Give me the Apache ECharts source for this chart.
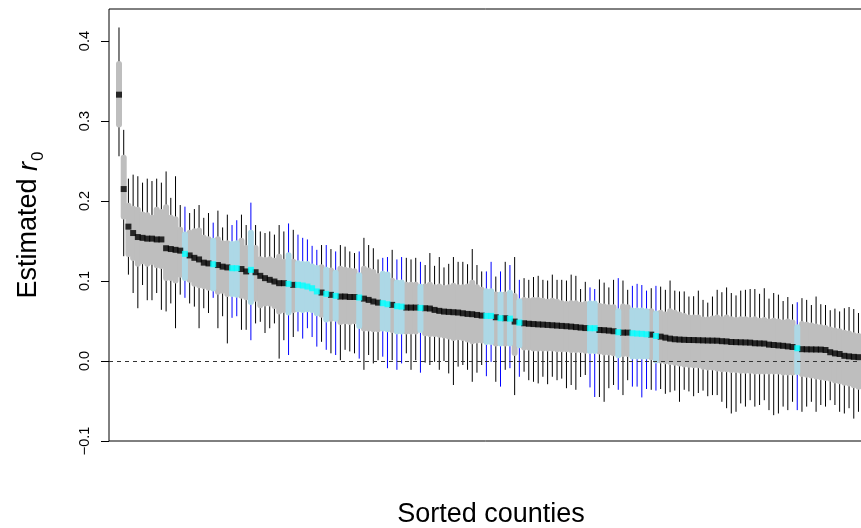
<!DOCTYPE html>
<html>
<head>
<meta charset="utf-8">
<script src="https://cdn.jsdelivr.net/npm/echarts@6/dist/echarts.min.js"></script>
<style>
html,body{margin:0;padding:0;background:#fff;}
#chart{width:861px;height:528px;}
</style>
</head>
<body>
<div id="chart"></div>
<script>
// Point estimates of r0 for the sorted counties (rank 1..158)
const EST = [
0.333,0.215,0.168,0.160,0.155,0.154,0.153,0.153,0.152,0.152,
0.141,0.140,0.139,0.138,0.134,0.132,0.129,0.127,0.123,0.122,
0.121,0.120,0.118,0.117,0.116,0.116,0.115,0.112,0.114,0.111,
0.1065,0.1036,0.1015,0.0994,0.0973,0.0973,0.0965,0.0952,0.0952,0.0944,
0.0931,0.091,0.087,0.0856,0.084,0.0827,0.0815,0.0806,0.0806,0.080,
0.080,0.0794,0.078,0.0764,0.0744,0.073,0.0723,0.071,0.0702,0.0685,
0.068,0.0668,0.0668,0.0668,0.0664,0.066,0.0656,0.0639,0.0627,0.0618,
0.0614,0.061,0.0606,0.0597,0.0589,0.0585,0.0576,0.0568,0.0564,0.0564,
0.0547,0.0535,0.0535,0.053,0.0493,0.048,0.0472,0.0466,0.0462,0.0458,
0.0455,0.0451,0.0447,0.0443,0.0439,0.0435,0.043,0.0424,0.0418,0.0412,
0.041,0.041,0.0388,0.0385,0.038,0.0372,0.036,0.0355,0.0355,0.0347,
0.0343,0.034,0.0334,0.033,0.0313,0.0305,0.0292,0.028,0.0272,0.0268,
0.0265,0.0263,0.0262,0.026,0.0258,0.0256,0.0255,0.0254,0.0248,0.0245,
0.0238,0.0236,0.0234,0.0232,0.023,0.0222,0.022,0.0218,0.0205,0.020,
0.0195,0.019,0.0183,0.0175,0.016,0.0148,0.0146,0.0145,0.0144,0.0143,
0.0138,0.011,0.0095,0.0088,0.0065,0.0058,0.0052,0.0048
];
// Inner (thick) interval, upper and lower ends
const G_HI = [
0.375,0.258,0.198,0.194,0.193,0.187,0.186,0.183,0.193,0.190,
0.196,0.183,0.181,0.168,0.162,0.164,0.166,0.167,0.158,0.156,
0.154,0.156,0.151,0.151,0.150,0.151,0.154,0.145,0.164,0.145,
0.131,0.130,0.131,0.129,0.134,0.128,0.136,0.128,0.126,0.125,
0.125,0.122,0.120,0.121,0.118,0.117,0.114,0.119,0.118,0.117,
0.116,0.111,0.119,0.117,0.115,0.110,0.113,0.112,0.104,0.102,
0.102,0.099,0.099,0.099,0.0965,0.097,0.099,0.096,0.097,0.095,
0.096,0.098,0.096,0.096,0.097,0.1015,0.096,0.093,0.091,0.091,
0.087,0.087,0.087,0.089,0.085,0.0786,0.080,0.079,0.080,0.080,
0.079,0.078,0.079,0.078,0.076,0.075,0.076,0.076,0.074,0.075,
0.0756,0.0756,0.073,0.072,0.071,0.071,0.066,0.072,0.071,0.067,
0.067,0.067,0.066,0.066,0.063,0.064,0.062,0.066,0.064,0.062,
0.060,0.058,0.058,0.058,0.0555,0.0555,0.057,0.058,0.056,0.058,
0.056,0.055,0.056,0.056,0.055,0.056,0.054,0.055,0.053,0.054,
0.053,0.052,0.053,0.052,0.046,0.050,0.049,0.048,0.047,0.046,
0.045,0.043,0.042,0.041,0.039,0.038,0.036,0.035
];
const G_LO = [
0.292,0.177,0.130,0.125,0.118,0.121,0.118,0.120,0.116,0.115,
0.100,0.100,0.097,0.104,0.100,0.098,0.093,0.091,0.090,0.088,
0.087,0.083,0.084,0.080,0.080,0.079,0.078,0.076,0.070,0.074,
0.066,0.068,0.068,0.065,0.058,0.060,0.057,0.060,0.061,0.060,
0.061,0.060,0.056,0.054,0.048,0.049,0.049,0.045,0.046,0.045,
0.046,0.040,0.037,0.037,0.036,0.036,0.037,0.036,0.035,0.033,
0.033,0.033,0.033,0.033,0.035,0.031,0.030,0.030,0.029,0.028,
0.027,0.025,0.026,0.025,0.023,0.021,0.022,0.022,0.020,0.020,
0.018,0.018,0.018,0.018,0.0063,0.016,0.013,0.013,0.012,0.012,
0.012,0.012,0.012,0.011,0.011,0.011,0.010,0.010,0.010,0.009,
0.0088,0.0088,0.008,0.007,0.007,0.006,0.0034,0.005,0.005,0.002,
0.002,0.002,0.002,0.001,-0.003,-0.003,-0.004,-0.005,-0.006,-0.007,
-0.008,-0.0084,-0.009,-0.009,-0.011,-0.012,-0.012,-0.013,-0.014,-0.014,
-0.015,-0.015,-0.016,-0.016,-0.016,-0.017,-0.017,-0.017,-0.017,-0.017,
-0.017,-0.018,-0.018,-0.018,-0.0175,-0.020,-0.021,-0.022,-0.023,-0.024,
-0.025,-0.026,-0.028,-0.029,-0.031,-0.032,-0.034,-0.036
];
// Outer (thin) interval, upper and lower ends
const L_HI = [
0.417,0.289,0.228,0.233,0.231,0.223,0.228,0.225,0.228,0.223,
0.237,0.204,0.231,0.195,0.193,0.185,0.190,0.195,0.179,0.185,
0.173,0.188,0.167,0.183,0.170,0.176,0.183,0.170,0.198,0.170,
0.162,0.160,0.162,0.158,0.170,0.162,0.172,0.164,0.158,0.154,
0.152,0.144,0.139,0.145,0.145,0.140,0.137,0.145,0.143,0.137,
0.135,0.137,0.154,0.145,0.141,0.127,0.129,0.130,0.139,0.127,
0.130,0.129,0.127,0.129,0.124,0.120,0.135,0.119,0.130,0.117,
0.1215,0.130,0.124,0.124,0.121,0.140,0.120,0.112,0.112,0.124,
0.1056,0.112,0.124,0.120,0.130,0.1015,0.1036,0.1015,0.105,0.1065,
0.1015,0.1006,0.108,0.1015,0.1015,0.1006,0.108,0.1065,0.090,0.099,
0.092,0.090,0.102,0.098,0.092,0.1015,0.1036,0.1006,0.089,0.094,
0.0965,0.095,0.088,0.091,0.094,0.093,0.089,0.1006,0.088,0.087,
0.087,0.0806,0.081,0.088,0.0764,0.073,0.0806,0.089,0.086,0.092,
0.085,0.082,0.088,0.089,0.090,0.090,0.084,0.091,0.078,0.085,
0.083,0.075,0.080,0.071,0.0735,0.0786,0.0764,0.070,0.0806,0.071,
0.070,0.0635,0.0655,0.062,0.066,0.0675,0.065,0.060
];
const L_LO = [
0.256,0.131,0.108,0.085,0.066,0.095,0.076,0.076,0.085,0.064,
0.062,0.072,0.041,0.083,0.079,0.072,0.068,0.041,0.066,0.060,
0.079,0.041,0.056,0.022,0.054,0.056,0.039,0.039,0.026,0.047,
0.049,0.035,0.041,0.047,0.003,0.026,0.0075,0.030,0.037,0.028,
0.041,0.030,0.018,0.024,0.014,0.0096,0.0075,0.001,0.014,0.012,
0.0096,0.003,-0.011,0.0075,-0.003,0.001,0.0054,-0.009,0.001,-0.011,
-0.003,0.0096,-0.011,0.001,-0.0146,-0.002,-0.005,-0.001,-0.011,0.000,
-0.0155,-0.030,-0.007,-0.005,-0.011,-0.026,-0.0146,-0.005,-0.019,-0.001,
-0.026,-0.032,-0.011,-0.009,-0.0426,-0.0197,-0.0134,-0.024,-0.026,-0.028,
-0.0197,-0.029,-0.0197,-0.024,-0.022,-0.034,-0.030,-0.036,-0.020,-0.0175,
-0.033,-0.045,-0.045,-0.051,-0.034,-0.030,-0.036,-0.0426,-0.024,-0.032,
-0.032,-0.0455,-0.035,-0.036,-0.037,-0.035,-0.041,-0.039,-0.037,-0.051,
-0.036,-0.038,-0.044,-0.040,-0.037,-0.044,-0.0426,-0.0426,-0.051,-0.059,
-0.0656,-0.0635,-0.053,-0.057,-0.049,-0.057,-0.055,-0.049,-0.0614,-0.0677,
-0.0656,-0.057,-0.0614,-0.051,-0.0614,-0.0635,-0.057,-0.051,-0.0635,-0.055,
-0.057,-0.049,-0.055,-0.0635,-0.0656,-0.059,-0.072,-0.0635
];
// Counties drawn in the highlight colours (rank numbers)
const HIGHLIGHT = [15,21,25,26,29,37,39,40,41,42,43,45,47,52,57,58,60,61,65,79,80,82,84,86,101,102,107,110,111,112,113,115,145];
const Y_TICKS = [-0.1, 0.0, 0.1, 0.2, 0.3, 0.4];
const X_TITLE = 'Sorted counties';

const COUNTY = EST.map((_, i) => i + 1);
const isHL = c => HIGHLIGHT.indexOf(c) >= 0;

const FONT = 'Liberation Sans, Arial, Helvetica, sans-serif';

const lineData = COUNTY.map((c, i) => [c, L_LO[i], L_HI[i], isHL(c) ? 1 : 0]);
const greyData = COUNTY.filter(c => !isHL(c)).map(c => [c, G_LO[c-1], G_HI[c-1]]);
const blueData = COUNTY.filter(c => isHL(c)).map(c => [c, G_LO[c-1], G_HI[c-1]]);
const ptBlack = COUNTY.filter(c => !isHL(c)).map(c => [c, EST[c-1]]);
const ptCyan = COUNTY.filter(c => isHL(c)).map(c => [c, EST[c-1]]);

function thinLine(params, api) {
  const p1 = api.coord([api.value(0), api.value(1)]);
  const p2 = api.coord([api.value(0), api.value(2)]);
  return {type:'line', shape:{x1:p1[0], y1:p1[1], x2:p2[0], y2:p2[1]},
          style:{stroke: api.value(3) ? '#0000ff' : '#000000', lineWidth:1}};
}
function thickBar(color) {
  return function(params, api) {
    const p1 = api.coord([api.value(0), api.value(1)]);
    const p2 = api.coord([api.value(0), api.value(2)]);
    return {type:'line', shape:{x1:p1[0], y1:p1[1]-3, x2:p2[0], y2:p2[1]+3},
            style:{stroke: color, lineWidth:6, lineCap:'round'}};
  };
}

const chart = echarts.init(document.getElementById('chart'), null, {renderer:'canvas'});
chart.setOption({
  animation:false,
  backgroundColor:'#ffffff',
  tooltip:{show:false},
  grid:{left:109, top:9, right:-2, bottom:87, show:true, borderColor:'#000', borderWidth:1,
        backgroundColor:'transparent', containLabel:false, outerBoundsMode:'none'},
  graphic:[
    {type:'text', silent:true, z:10,
     style:{text:X_TITLE, x:491, y:501, textAlign:'center', textVerticalAlign:'top',
            font:'27px ' + FONT, fill:'#000'}}
  ],
  xAxis:{
    type:'value', show:false, min:-1.123, max:158.96,
    axisLine:{show:false, onZero:false}, axisTick:{show:false}, minorTick:{show:false}, axisLabel:{show:false},
    splitLine:{show:false}
  },
  yAxis:{
    type:'value', min:-0.1, max:0.4401,
    axisLine:{show:false, onZero:false},
    axisTick:{show:true, length:8, lineStyle:{color:'#000', width:1}, customValues:Y_TICKS},
    axisLabel:{show:true, rotate:90, margin:17, fontFamily:FONT, fontSize:14.5, color:'#000',
      customValues:Y_TICKS,
      formatter: v => (v < -1e-9 ? '\u2212' + Math.abs(v).toFixed(1) : Math.abs(v).toFixed(1))},
    splitLine:{show:false},
    name:'{a|Estimated }{b|r}{c|0}', nameLocation:'middle', nameGap:62, nameRotate:90,
    nameTextStyle:{
      fontFamily:FONT, fontSize:27, color:'#000',
      rich:{
        a:{fontFamily:FONT, fontSize:27, color:'#000', lineHeight:36},
        b:{fontFamily:FONT, fontSize:27, fontStyle:'italic', color:'#000', lineHeight:36},
        c:{fontFamily:FONT, fontSize:17, color:'#000', verticalAlign:'bottom', padding:[12,0,0,1]}
      }
    }
  },
  series:[
    {type:'custom', name:'outer', data:lineData, renderItem:thinLine, z:1, encode:{x:0, y:[1,2]}, silent:true},
    {type:'custom', name:'inner', data:greyData, renderItem:thickBar('#bebebe'), z:2, encode:{x:0, y:[1,2]}, silent:true},
    {type:'custom', name:'innerHL', data:blueData, renderItem:thickBar('#add8e6'), z:3, encode:{x:0, y:[1,2]}, silent:true},
    {type:'scatter', name:'est', data:ptBlack, symbol:'rect', symbolSize:[6,6], itemStyle:{color:'#000'}, z:4, silent:true},
    {type:'scatter', name:'estHL', data:ptCyan, symbol:'rect', symbolSize:[6,6], itemStyle:{color:'#00ffff'}, z:5, silent:true,
      markLine:{silent:true, symbol:['none','none'], label:{show:false},
        lineStyle:{type:[4,4], color:'#333', width:1}, data:[{yAxis:0}]}}
  ]
});
</script>
</body>
</html>
